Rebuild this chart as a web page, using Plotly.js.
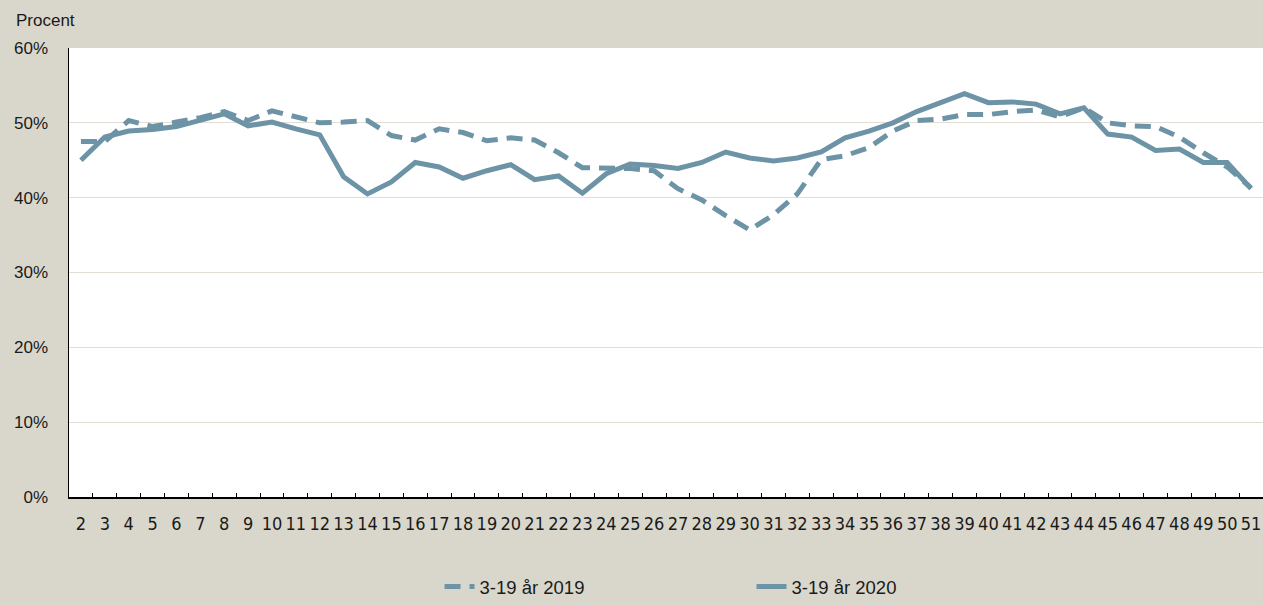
<!DOCTYPE html>
<html>
<head>
<meta charset="utf-8">
<script src="https://cdn.plot.ly/plotly-3.0.1.min.js"></script>
<style>html,body{margin:0;padding:0;background:#D9D7CB;}#chart{width:1263px;height:606px;}</style>
</head>
<body>
<div id="chart"></div>
<script>
const weeks = ["2","3","4","5","6","7","8","9","10","11","12","13","14","15","16","17","18","19","20","21","22","23","24","25","26","27","28","29","30","31","32","33","34","35","36","37","38","39","40","41","42","43","44","45","46","47","48","49","50","51"];
const serie2019 = [47.5,47.5,50.3,49.5,50.1,50.7,51.5,50.3,51.6,50.8,50.0,50.1,50.3,48.3,47.7,49.2,48.7,47.6,48.0,47.7,46.0,44.0,44.0,43.9,43.6,41.2,39.7,37.6,35.7,37.7,40.5,45.1,45.6,46.7,48.9,50.3,50.5,51.1,51.1,51.5,51.7,50.8,52.0,50.0,49.6,49.5,48.1,46.0,44.1,41.3];
const serie2020 = [45.0,48.1,48.9,49.1,49.5,50.4,51.2,49.6,50.1,49.2,48.4,42.8,40.5,42.1,44.7,44.1,42.6,43.6,44.4,42.4,42.9,40.6,43.2,44.5,44.3,43.9,44.7,46.1,45.3,44.9,45.3,46.1,48.0,48.9,50.0,51.5,52.7,53.9,52.7,52.8,52.5,51.2,52.0,48.5,48.1,46.3,46.5,44.7,44.7,41.2];
const name2019 = "3-19 år 2019";
const name2020 = "3-19 år 2020";
const yTickVals = [0,10,20,30,40,50,60];
const yTickText = ["0%","10%","20%","30%","40%","50%","60%"];

const lineColor = "#6D93A6";
const font = "Liberation Sans, Arial, sans-serif";
const narrow = "Liberation Sans Narrow, DejaVu Sans Condensed, Liberation Sans, sans-serif";

const traces = [
  {x: weeks, y: serie2019, name: name2019, type: "scatter", mode: "lines",
   line: {color: lineColor, width: 5, dash: "16px,9px"}},
  {x: weeks, y: serie2020, name: name2020, type: "scatter", mode: "lines",
   line: {color: lineColor, width: 5}}
];

const layout = {
  width: 1263, height: 606,
  paper_bgcolor: "#D9D7CB",
  plot_bgcolor: "#FFFFFF",
  margin: {l: 69, r: 0, t: 48, b: 109},
  font: {family: font, size: 16, color: "#1A1A1A"},
  showlegend: true,
  legend: {orientation: "h", xref: "container", yref: "container", x: 0.348, xanchor: "left",
           y: -0.027, yanchor: "bottom", font: {family: font, size: 18.5, color: "#1A1A1A"},
           entrywidth: 267, bgcolor: "rgba(0,0,0,0)"},
  xaxis: {type: "category", tickson: "boundaries", ticks: "inside", ticklen: 4, tickangle: 0,
          tickcolor: "#000", showgrid: false, showline: true, linecolor: "#000", linewidth: 1.5,
          ticklabelstandoff: 10, tickfont: {family: narrow, size: 18, color: "#1A1A1A"},
          range: [-0.5, 49.5], zeroline: false, fixedrange: true},
  yaxis: {range: [0, 60], tickvals: yTickVals, ticktext: yTickText, showgrid: true,
          gridcolor: "#E2DED6", gridwidth: 1.2, showline: true, linecolor: "#000", linewidth: 1.5,
          ticks: "", ticklabelstandoff: 16, zeroline: false,
          tickfont: {family: font, size: 17, color: "#1A1A1A"}, fixedrange: true},
  annotations: [{text: "Procent", xref: "paper", yref: "paper", x: -0.046, y: 1.087,
                 xanchor: "left", yanchor: "top", showarrow: false,
                 font: {family: font, size: 17, color: "#1A1A1A"}}]
};

Plotly.newPlot("chart", traces, layout, {displayModeBar: false, staticPlot: true});
</script>
</body>
</html>
